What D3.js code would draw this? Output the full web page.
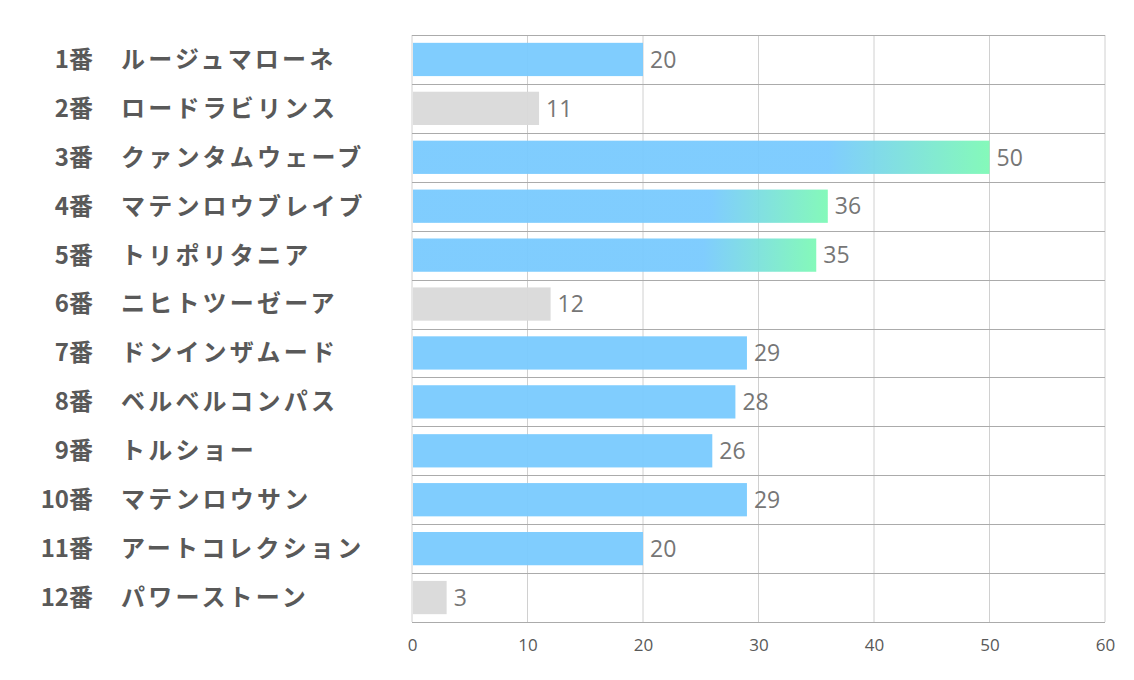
<!DOCTYPE html>
<head>
    <meta charset="utf-8">
    <script src="https://cdn.jsdelivr.net/npm/d3@7"></script>
    <style type="text/css">
        body { margin: 0; background: #fff; }
        .name { font-family: "Noto Sans CJK JP", sans-serif; font-weight: bold; font-size: 24px; fill: #595959; }
        .horse { letter-spacing: 3.2px; }
        .val { font-family: "Open Sans", "Noto Sans", sans-serif; font-size: 23px; fill: #767676; }
        .tick text { font-family: "Open Sans", "Noto Sans", sans-serif; font-size: 17px; fill: #595959; }
    </style>
</head>
<body>
    <div id="chart"></div>
</body>
</html>

<script type="text/javascript">
	var numbers = ["1番", "2番", "3番", "4番", "5番", "6番", "7番", "8番", "9番", "10番", "11番", "12番"];
	var horses = ["ルージュマローネ", "ロードラビリンス", "クァンタムウェーブ", "マテンロウブレイブ", "トリポリタニア",
		"ニヒトツーゼーア", "ドンインザムード", "ベルベルコンパス", "トルショー", "マテンロウサン",
		"アートコレクション", "パワーストーン"];
	var values = [20, 11, 50, 36, 35, 12, 29, 28, 26, 29, 20, 3];
	// bar kind: 0 = blue, 1 = gray, 2 = blue→green gradient
	var kinds = [0, 1, 2, 2, 2, 1, 0, 0, 0, 0, 0, 1];
	var xTicks = [0, 10, 20, 30, 40, 50, 60];

	var width = 1134, height = 680;
	var margin = {top: 35, right: 29, bottom: 58, left: 412};

	var svg = d3.select("#chart").append("svg")
		.attr("width", width)
		.attr("height", height);

	var defs = svg.append("defs");
	var grad = defs.append("linearGradient")
		.attr("id", "hot")
		.attr("x1", "0%").attr("x2", "100%")
		.attr("y1", "0%").attr("y2", "0%");
	grad.append("stop").attr("offset", "0%").attr("stop-color", "#79CAFE");
	grad.append("stop").attr("offset", "72%").attr("stop-color", "#79CAFE");
	grad.append("stop").attr("offset", "100%").attr("stop-color", "#7EF9B6");

	var x = d3.scaleLinear()
		.domain([0, 60])
		.range([margin.left, width - margin.right]);

	var y = d3.scaleBand()
		.domain(d3.range(values.length))
		.range([margin.top, height - margin.bottom])
		.paddingInner(0.32)
		.paddingOuter(0.16);

	var rowH = (height - margin.bottom - margin.top) / values.length;

	// vertical gridlines
	svg.append("g").selectAll("line")
		.data(xTicks)
		.enter().append("line")
		.attr("x1", function(d) { return x(d); })
		.attr("x2", function(d) { return x(d); })
		.attr("y1", margin.top)
		.attr("y2", height - margin.bottom)
		.attr("stroke", "#d0d0d0")
		.attr("stroke-width", 1);

	// horizontal row lines
	svg.append("g").selectAll("line")
		.data(d3.range(values.length + 1))
		.enter().append("line")
		.attr("x1", x(0))
		.attr("x2", x(60))
		.attr("y1", function(d) { return Math.round(margin.top + d * rowH) + 0.5; })
		.attr("y2", function(d) { return Math.round(margin.top + d * rowH) + 0.5; })
		.attr("stroke", "#ababab")
		.attr("stroke-width", 1);

	// bars
	svg.append("g").selectAll("rect")
		.data(values)
		.enter().append("rect")
		.attr("x", x(0) + 1)
		.attr("y", function(d, i) { return y(i); })
		.attr("width", function(d) { return x(d) - x(0) - 1; })
		.attr("height", y.bandwidth())
		.attr("fill", function(d, i) {
			return kinds[i] == 1 ? "#d9d9d9" : (kinds[i] == 2 ? "url(#hot)" : "#79CAFE");
		})
		.attr("opacity", 0.95);

	// value labels
	svg.append("g").selectAll("text")
		.data(values)
		.enter().append("text")
		.attr("class", "val")
		.attr("x", function(d) { return x(d) + 7; })
		.attr("y", function(d, i) { return y(i) + y.bandwidth() / 2; })
		.attr("dy", "0.36em")
		.text(function(d) { return d; });

	// row labels
	var labels = svg.append("g");
	labels.selectAll("text.num")
		.data(numbers)
		.enter().append("text")
		.attr("class", "name num")
		.attr("x", 93)
		.attr("y", function(d, i) { return y(i) + y.bandwidth() / 2; })
		.attr("dy", "0.35em")
		.attr("text-anchor", "end")
		.text(function(d) { return d; });
	labels.selectAll("text.horse")
		.data(horses)
		.enter().append("text")
		.attr("class", "name horse")
		.attr("x", 121)
		.attr("y", function(d, i) { return y(i) + y.bandwidth() / 2; })
		.attr("dy", "0.35em")
		.text(function(d) { return d; });

	// x axis
	var axis = svg.append("g")
		.attr("transform", "translate(0," + (height - margin.bottom) + ")")
		.call(d3.axisBottom(x).tickValues(xTicks).tickSize(0).tickPadding(17));
	axis.select(".domain").remove();
</script>
